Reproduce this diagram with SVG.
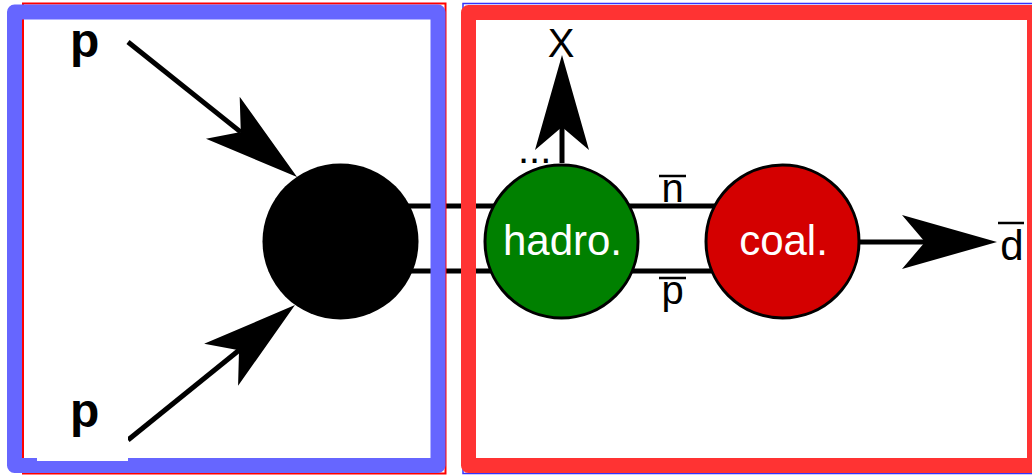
<svg xmlns="http://www.w3.org/2000/svg" width="1032" height="475" viewBox="0 0 1032 475">
  <style>
    .shaft { stroke: #000; stroke-width: 5; fill: none; }
    .bar { stroke: #000; stroke-width: 2.5; }
    .lbl { font-family: "Liberation Sans", Arial, sans-serif; fill: #000; }
    .in { font-family: "Liberation Sans", Arial, sans-serif; fill: #fff; font-size: 42px; text-anchor: middle; }
    .node { stroke: #000; stroke-width: 3; }
  </style>
  <defs>
    <marker id="head" markerUnits="userSpaceOnUse" orient="auto" markerWidth="200" markerHeight="200" refX="0" refY="0" overflow="visible">
      <path d="M72,0 L-23,-27 L0,0 L-23,27 Z" fill="#000"/>
    </marker>
  </defs>
  <rect width="1032" height="475" fill="#fff"/>

  <g id="connectors">
    <line class="shaft" x1="128" y1="42" x2="240.8" y2="132.1" marker-end="url(#head)"/>
    <line class="shaft" x1="128" y1="440" x2="239" y2="350.3" marker-end="url(#head)"/>
    <line class="shaft" x1="341" y1="206" x2="782" y2="206"/>
    <line class="shaft" x1="341" y1="271" x2="782" y2="271"/>
    <line class="shaft" x1="562" y1="163" x2="562" y2="127" marker-end="url(#head)"/>
    <line class="shaft" x1="859" y1="242" x2="925" y2="242" marker-end="url(#head)"/>
  </g>

  <g id="collision">
    <circle cx="340.5" cy="241.5" r="78" fill="#000"/>
  </g>
  <g id="hadro">
    <circle class="node" cx="561.5" cy="241.5" r="76.5" fill="#008000"/>
    <text class="in" x="562.5" y="255">hadro.</text>
  </g>
  <g id="coal">
    <circle class="node" cx="782.5" cy="241.5" r="76.5" fill="#d40000"/>
    <text class="in" x="783.5" y="255">coal.</text>
  </g>

  <g id="label-X">
    <text class="lbl" x="561" y="57" font-size="40" text-anchor="middle">X</text>
  </g>
  <g id="label-dots">
    <text class="lbl" x="518" y="163" font-size="40">...</text>
  </g>
  <g id="label-nbar">
    <line class="bar" x1="659" y1="176" x2="686" y2="176"/>
    <text class="lbl" x="672.5" y="202" font-size="40" text-anchor="middle">n</text>
  </g>
  <g id="label-pbar">
    <line class="bar" x1="659" y1="278" x2="686" y2="278"/>
    <text class="lbl" x="672.5" y="304" font-size="40" text-anchor="middle">p</text>
  </g>
  <g id="label-dbar">
    <line class="bar" x1="998" y1="223" x2="1024" y2="223"/>
    <text class="lbl" x="1012" y="260" font-size="42" text-anchor="middle">d</text>
  </g>

  <g id="box-left">
    <rect x="23" y="3.5" width="422.5" height="470" fill="none" stroke="#ff0000" stroke-width="2"/>
    <rect x="14.5" y="12" width="423.5" height="453.5" fill="none" stroke="#6666ff" stroke-width="15" stroke-linejoin="round"/>
  </g>
  <g id="box-right">
    <rect x="463" y="3.5" width="580" height="470" fill="none" stroke="#3333ff" stroke-width="1.5"/>
    <rect x="468.5" y="12.5" width="566" height="453" fill="none" stroke="#ff3333" stroke-width="15" stroke-linejoin="round"/>
  </g>

  <g id="label-p-top">
    <text class="lbl" x="70" y="57" font-size="48" font-weight="bold">p</text>
  </g>
  <g id="label-p-bottom">
    <rect x="37" y="400" width="91" height="61" fill="#fff"/>
    <text class="lbl" x="70" y="427" font-size="48" font-weight="bold">p</text>
  </g>
</svg>
